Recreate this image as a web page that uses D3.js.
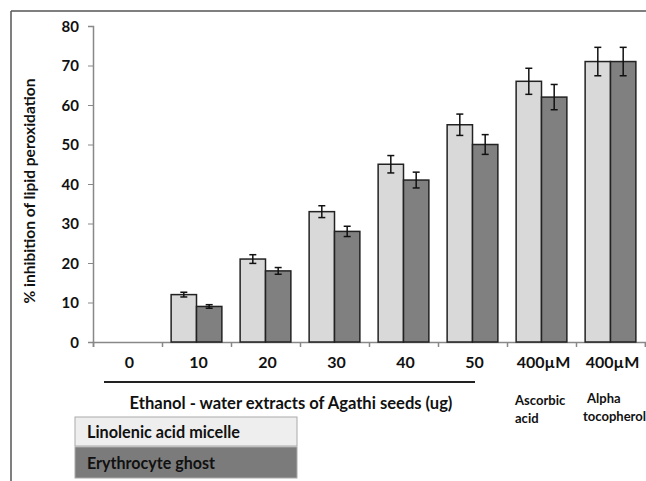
<!DOCTYPE html>
<html><head><meta charset="utf-8">
<script src="https://cdn.jsdelivr.net/npm/d3@7"></script>
<style>body{margin:0;background:#fff}svg{display:block}text{font-family:Lato,"Open Sans",sans-serif;font-weight:bold;fill:#111}</style>
</head><body>
<svg id="c" width="646" height="481"></svg>
<script>
const categories = ["0","10","20","30","40","50","400µM","400µM"];
const seriesNames = ["Linolenic acid micelle","Erythrocyte ghost"];
const linolenic = [0,12,21,33,45,55,66,71];
const linolenicErr = [0,0.6,1.1,1.5,2.2,2.7,3.3,3.6];
const erythrocyte = [0,9,18,28,41,50,62,71];
const erythrocyteErr = [0,0.45,0.85,1.3,2.0,2.5,3.2,3.6];
const yTicks = [0,10,20,30,40,50,60,70,80];

const svg = d3.select("#c");
const x0 = 93, x1 = 645, yTop = 26, yBot = 342;
const x = d3.scaleBand().domain(d3.range(categories.length)).range([x0,x1]).paddingInner(0).paddingOuter(0);
const xs = d3.scaleBand().domain([0,1]).range([0,x.bandwidth()]).paddingInner(0).paddingOuter(0.36);
const y = d3.scaleLinear().domain([0,80]).range([yBot,yTop]);
const colors = ["#d9d9d9","#808080"];

function fit(sel, w){ const n = sel.node(); const fs = parseFloat(sel.style("font-size")); const l = n.getComputedTextLength(); if(l>0) sel.style("font-size",(fs*w/l).toFixed(2)+"px"); return sel; }

// frame
svg.append("line").attr("x1",11).attr("y1",11).attr("x2",646).attr("y2",11).attr("stroke","#555").attr("stroke-width",1.5);
svg.append("line").attr("x1",11).attr("y1",11).attr("x2",11).attr("y2",481).attr("stroke","#555").attr("stroke-width",1.5);

// y axis
const ya = svg.append("g").attr("transform",`translate(${x0},0)`)
  .call(d3.axisLeft(y).tickValues(yTicks).tickSize(5).tickPadding(9));
ya.select(".domain").attr("stroke","#888").attr("stroke-width",1.5);
ya.selectAll(".tick line").attr("stroke","#888");
ya.selectAll("text").style("font-size","15px").attr("fill","#111").attr("dy","0.34em").style("font-family","Lato,'Open Sans',sans-serif").style("font-weight","bold");

// x axis
const xa = svg.append("g").attr("transform",`translate(0,${yBot})`)
  .call(d3.axisBottom(d3.scaleLinear().domain([0,8]).range([x0,x1])).tickValues(d3.range(9)).tickSize(5).tickFormat(""));
xa.select(".domain").attr("stroke","#888").attr("stroke-width",1.5);
xa.selectAll(".tick line").attr("stroke","#888").attr("stroke-width",1.5);

svg.append("g").selectAll("text").data(categories).join("text")
  .attr("x",(d,i)=>x(i)+x.bandwidth()/2+2).attr("y",368).attr("text-anchor","middle")
  .style("font-size","16px").text(d=>d);

const series = [[linolenic,linolenicErr],[erythrocyte,erythrocyteErr]];
series.forEach(([vals,errs],s)=>{
  const g = svg.append("g");
  g.selectAll("rect").data(vals).join("rect")
    .attr("x",(d,i)=>x(i)+xs(s)).attr("width",xs.bandwidth())
    .attr("y",d=>y(d)).attr("height",d=>yBot-y(d))
    .attr("fill",colors[s]).attr("stroke",d=>d>0?"#222":"none").attr("stroke-width",1.5);
  const eg = svg.append("g").attr("stroke","#111").attr("stroke-width",1.5);
  vals.forEach((v,i)=>{
    if(!v) return;
    const cx = x(i)+xs(s)+xs.bandwidth()/2, e = errs[i];
    eg.append("line").attr("x1",cx).attr("x2",cx).attr("y1",y(v+e)).attr("y2",y(v-e));
    eg.append("line").attr("x1",cx-3.5).attr("x2",cx+3.5).attr("y1",y(v+e)).attr("y2",y(v+e));
    eg.append("line").attr("x1",cx-3.5).attr("x2",cx+3.5).attr("y1",y(v-e)).attr("y2",y(v-e));
  });
});

// y title
fit(svg.append("text").attr("transform","translate(35,191) rotate(-90)").attr("text-anchor","middle")
  .style("font-size","15px").text("% inhibition of lipid peroxidation"), 225);

// bracket line and group title
svg.append("line").attr("x1",104).attr("x2",475).attr("y1",382).attr("y2",382).attr("stroke","#222").attr("stroke-width",1.8);
fit(svg.append("text").attr("x",291).attr("y",409).attr("text-anchor","middle").style("font-size","16px")
  .text("Ethanol - water extracts of Agathi seeds (ug)"), 323);
const toc = fit(svg.append("text").attr("x",583).attr("y",421).style("font-size","14px").text("tocopherol"), 63);
const fs = toc.style("font-size");
svg.append("text").attr("x",587).attr("y",403).style("font-size",fs).text("Alpha");
svg.append("text").attr("x",515).attr("y",405).style("font-size",fs).text("Ascorbic");
svg.append("text").attr("x",515).attr("y",423).style("font-size",fs).text("acid");

// legend
const lg = svg.append("g");
const legFill = ["#eeeeee","#7b7b7b"];
const legW = [153,128];
seriesNames.forEach((n,i)=>{
  lg.append("rect").attr("x",75).attr("y",417+i*30).attr("width",222).attr("height",i?31:29)
    .attr("fill",legFill[i]).attr("stroke","#aaa").attr("stroke-width",1);
  fit(lg.append("text").attr("x",87).attr("y",438+i*31).style("font-size","16px").text(n), legW[i]);
});
</script>
</body></html>
